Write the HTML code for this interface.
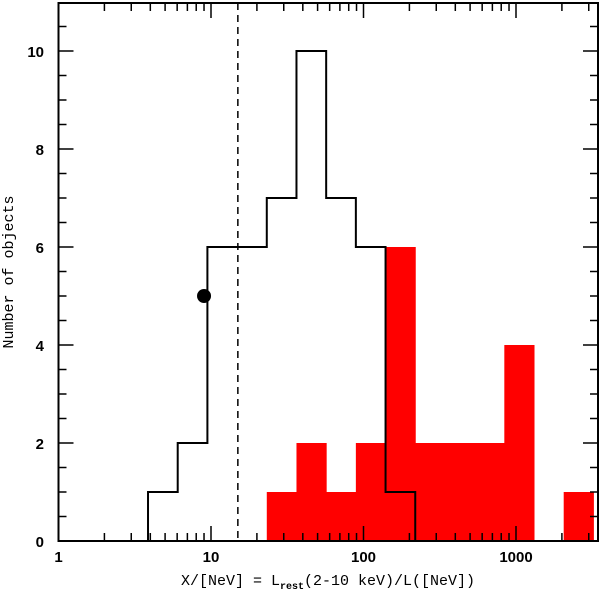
<!DOCTYPE html>
<html><head><meta charset="utf-8"><style>
html,body{margin:0;padding:0;background:#fff;width:600px;height:594px;overflow:hidden}
text{font-family:"Liberation Sans",sans-serif}
</style></head><body>
<svg id="chart" width="600" height="594" xmlns="http://www.w3.org/2000/svg">
<g id="plot"></g>
</svg>
<script>
const binStartLog = 0.587;
const binWidthLog = 0.1947;
const totalCounts = [1,2,6,6,7,10,7,6,1];
const redCounts = [0,0,0,0,1,2,1,2,6,2,2,2,4,0,1];
const dashedX = 15;
const pointX = 9, pointY = 5;
const xTickLabels = ["1","10","100","1000"];
const xTickValues = [1,10,100,1000];
const yTickValues = [0,2,4,6,8,10];

const L=58.5,R=598,T=3,B=541, xMinLog=0, xMaxLog=(R-L)/152.5, yMax=(B-T)/49;
const xl = lg => L + (lg - xMinLog)/(xMaxLog-xMinLog)*(R-L);
const xs = v => xl(Math.log10(v));
const ys = v => B - v/yMax*(B-T);
const NS="http://www.w3.org/2000/svg", g=document.getElementById('plot');
function mk(tag,attrs){const e=document.createElementNS(NS,tag);for(const k in attrs)e.setAttribute(k,attrs[k]);g.appendChild(e);return e;}

// red bars
redCounts.forEach((c,i)=>{ if(!c) return;
  const x0=xl(binStartLog+i*binWidthLog), x1=xl(binStartLog+(i+1)*binWidthLog);
  const r=mk('rect',{x:x0,y:ys(c),width:x1-x0+0.5,height:B-ys(c),fill:'#ff0000'});
  
  
});
// black step histogram
let d='M'+L+','+B+' L'+xl(binStartLog)+','+B;
totalCounts.forEach((c,i)=>{const x0=xl(binStartLog+i*binWidthLog),x1=xl(binStartLog+(i+1)*binWidthLog);d+=' L'+x0+','+ys(c)+' L'+x1+','+ys(c);});
d+=' L'+xl(binStartLog+totalCounts.length*binWidthLog)+','+B;
const h=mk('path',{d:d,fill:'none',stroke:'#000','stroke-width':2});


// dashed line
const dl=mk('line',{x1:xs(dashedX),x2:xs(dashedX),y1:T,y2:B,stroke:'#000','stroke-width':1.5,'stroke-dasharray':'7,5'});


// point
const pt=mk('circle',{cx:xs(pointX),cy:ys(pointY),r:7,fill:'#000'});


// frame
const fr=mk('rect',{x:L,y:T,width:R-L,height:B-T,fill:'none',stroke:'#000','stroke-width':2});


// x ticks
for(let dec=1;dec<=1000;dec*=10){for(let m=1;m<10;m++){const v=dec*m;const x=xs(v);if(x>R)continue;const len=m===1?15:8;
  mk('line',{x1:x,x2:x,y1:B,y2:B-len,stroke:'#000','stroke-width':1.5});
  mk('line',{x1:x,x2:x,y1:T,y2:T+len,stroke:'#000','stroke-width':1.5});}}
xTickValues.forEach((v,i)=>{const t=mk('text',{x:xs(v),y:562,'text-anchor':'middle','font-size':15,'font-weight':'bold'});t.textContent=xTickLabels[i];
  
  });
// y ticks
for(let v=0;v<=yMax;v+=0.5){const y=ys(v);const len=(v%2===0)?15:8;
  mk('line',{x1:L,x2:L+len,y1:y,y2:y,stroke:'#000','stroke-width':1.5});
  mk('line',{x1:R,x2:R-len,y1:y,y2:y,stroke:'#000','stroke-width':1.5});}
yTickValues.forEach(v=>{const t=mk('text',{x:44,y:ys(v)+6,'text-anchor':'end','font-size':15,'font-weight':'bold'});t.textContent=v;
  
  });
</script>
<svg style="position:absolute;left:0;top:0" width="600" height="594" xmlns="http://www.w3.org/2000/svg">
<text transform="translate(13,272) rotate(-90)" text-anchor="middle" font-size="15" style="font-family:'Liberation Mono',monospace">Number of objects</text>
<text x="328" y="585" text-anchor="middle" font-size="15" style="font-family:'Liberation Mono',monospace">X/[NeV] = L<tspan font-size="10" font-weight="bold" dy="4">rest</tspan><tspan dy="-4">(2-10 keV)/L([NeV])</tspan></text>
</svg>
</body></html>
